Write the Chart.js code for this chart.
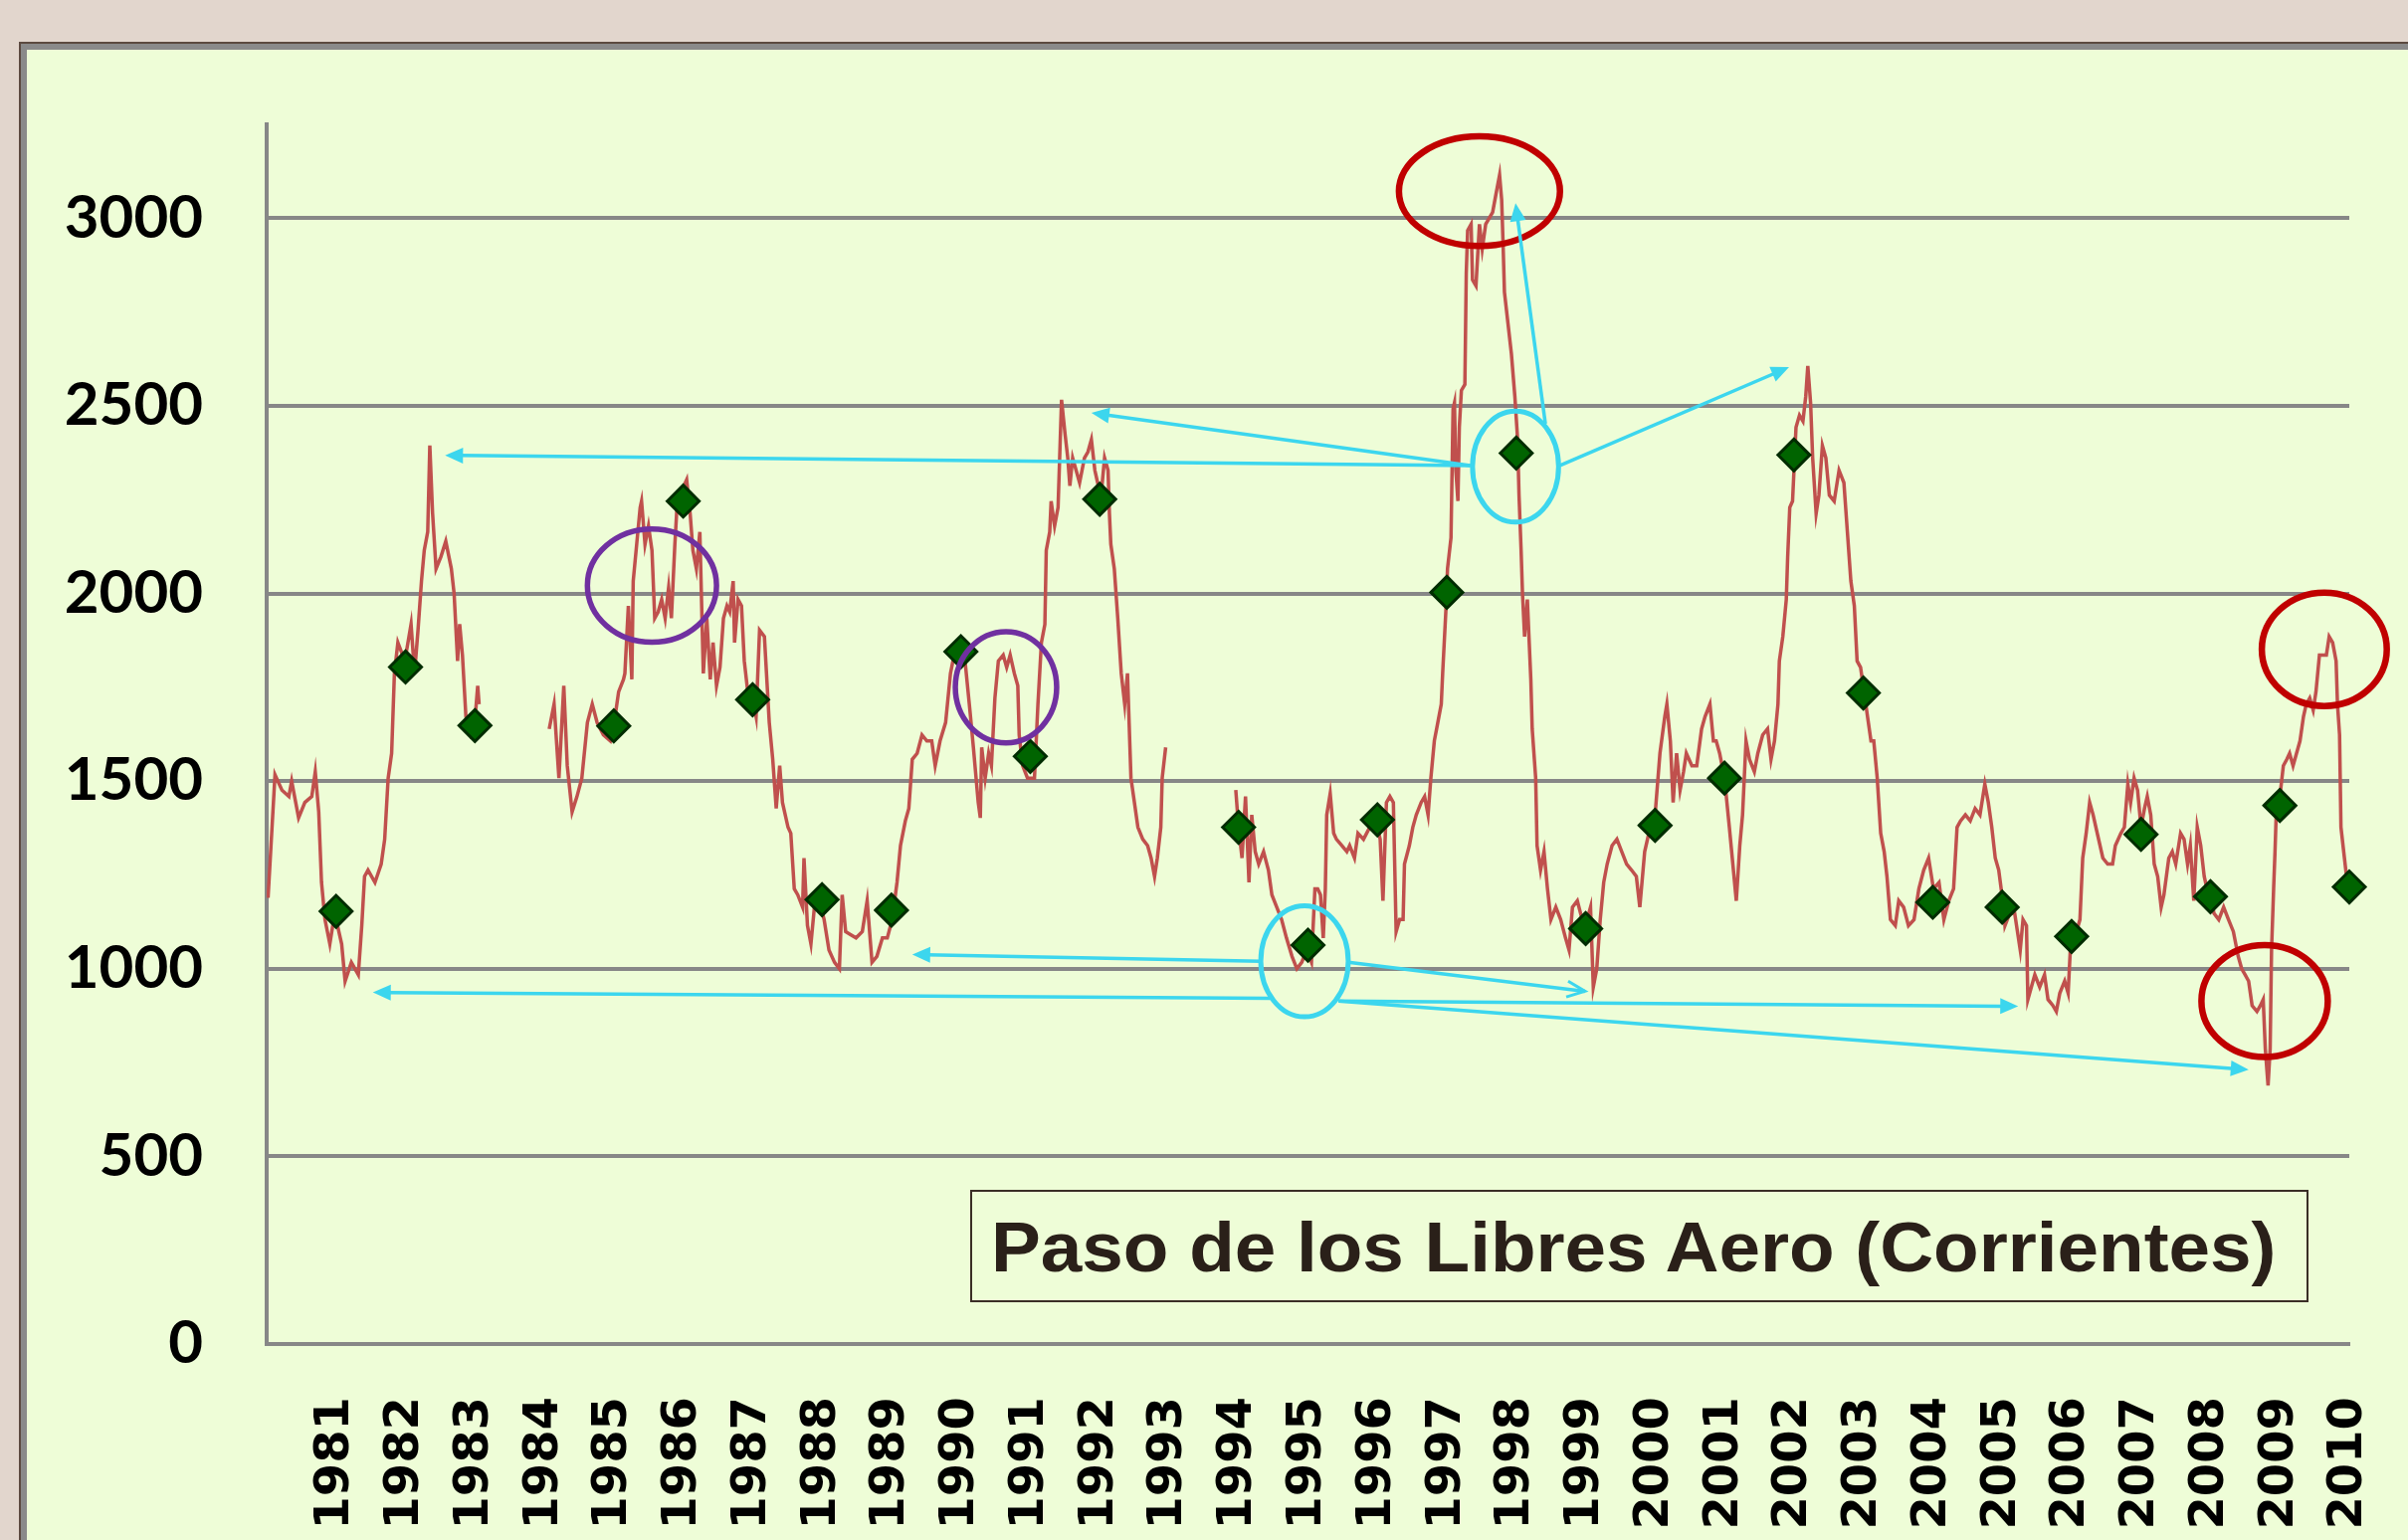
<!DOCTYPE html>
<html lang="es">
<head>
  <meta charset="UTF-8">
  <title>Paso de los Libres Aero (Corrientes)</title>
  <script src="https://cdn.jsdelivr.net/npm/chart.js"></script>
  <style>
    body {
      margin: 0;
      width: 2420px;
      height: 1548px;
      overflow: hidden;
      background: #e2d6cd;
      position: relative;
    }

    #panel {
      position: absolute;
      left: 21px;
      top: 44px;
      width: 2500px;
      height: 1600px;
      background: #eefdd7;
      border: 6px solid #8a8a8a;
      box-shadow: 0 0 0 2px #5c4a40;
    }

    #chart {
      position: absolute;
      left: 0;
      top: 0;
    }

    #titleBox {
      position: absolute;
      left: 975px;
      top: 1196px;
      width: 1345px;
      height: 113px;
      box-sizing: border-box;
      border: 2px solid #3a2e26;
    }

    #titleText {
      position: absolute;
      left: 996px;
      top: 1218px;
      font-family: 'Liberation Sans', Arial, sans-serif;
      font-weight: bold;
      font-size: 71px;
      line-height: 71px;
      color: #2a2019;
      white-space: nowrap;
      transform-origin: 0 0;
    }
  </style>
</head>
<body>
  <div id="panel"></div>
  <canvas id="chart" width="2420" height="1548"></canvas>
  <div id="titleBox"></div>
  <div id="titleText">Paso de los Libres Aero (Corrientes)</div>

  <script>
    // annual means (diamonds)
    const annualYears = [1981, 1982, 1983, 1985, 1986, 1987, 1988, 1989, 1990, 1991, 1992, 1994, 1995, 1996,
      1997, 1998, 1999, 2000, 2001, 2002, 2003, 2004, 2005, 2006, 2007, 2008, 2009, 2010];
    const annualValues = [1153, 1804, 1648, 1647, 2246, 1717, 1184, 1156, 1845, 1566, 2251, 1377, 1063, 1397,
      2003, 2374, 1107, 1382, 1508, 2369, 1735, 1177, 1164, 1086, 1358, 1192, 1435, 1218];

    // running series (red line), null = no data
    const seriesTime = [
      1980.02, 1980.12, 1980.22, 1980.32, 1980.36, 1980.46, 1980.55, 1980.65, 1980.70, 1980.75, 1980.79, 1980.84,
      1980.91, 1980.98, 1981.08, 1981.13, 1981.22, 1981.32, 1981.37, 1981.41, 1981.46, 1981.56, 1981.65, 1981.70,
      1981.75, 1981.80, 1981.84, 1981.89, 1981.99, 1982.08, 1982.13, 1982.18, 1982.23, 1982.27, 1982.32, 1982.35,
      1982.39, 1982.44, 1982.51, 1982.58, 1982.66, 1982.70, 1982.75, 1982.78, 1982.82, 1982.87, 1982.94, 1982.99,
      1983.04, 1983.06,
      1983.5,
      1984.07, 1984.14, 1984.21, 1984.28, 1984.33, 1984.40, 1984.47, 1984.54, 1984.62, 1984.69, 1984.76, 1984.85,
      1984.95, 1985.00, 1985.07, 1985.14, 1985.16, 1985.21, 1985.26, 1985.28, 1985.33, 1985.38, 1985.40, 1985.45,
      1985.50, 1985.55, 1985.59, 1985.64, 1985.69, 1985.74, 1985.79, 1985.83, 1985.88, 1985.91, 1985.95, 1986.05,
      1986.10, 1986.14, 1986.19, 1986.24, 1986.29, 1986.34, 1986.39, 1986.43, 1986.48, 1986.53, 1986.58, 1986.63,
      1986.67, 1986.72, 1986.74, 1986.79, 1986.84, 1986.88, 1986.93, 1987.00, 1987.05, 1987.10, 1987.17, 1987.24,
      1987.29, 1987.34, 1987.39, 1987.43, 1987.51, 1987.55, 1987.60, 1987.65, 1987.72, 1987.74, 1987.79, 1987.84,
      1987.89, 1987.96, 1988.03, 1988.10, 1988.18, 1988.25, 1988.29, 1988.34, 1988.41, 1988.49, 1988.58, 1988.65,
      1988.72, 1988.79, 1988.87, 1988.94, 1989.01, 1989.08, 1989.13, 1989.20, 1989.25, 1989.30, 1989.37, 1989.44,
      1989.51, 1989.58, 1989.63, 1989.70, 1989.78, 1989.85, 1989.92, 1989.99, 1990.06, 1990.13, 1990.18, 1990.25,
      1990.28, 1990.30, 1990.35, 1990.40, 1990.44, 1990.49, 1990.54, 1990.61, 1990.66, 1990.71, 1990.77, 1990.82,
      1990.84, 1990.89, 1990.96, 1991.06, 1991.11, 1991.16, 1991.21, 1991.23, 1991.28, 1991.30, 1991.35, 1991.40,
      1991.45, 1991.50, 1991.54, 1991.57, 1991.61, 1991.66, 1991.71, 1991.78, 1991.83, 1991.88, 1991.93, 1991.97,
      1992.02, 1992.07, 1992.12, 1992.14, 1992.16, 1992.21, 1992.26, 1992.31, 1992.36, 1992.40, 1992.45, 1992.50,
      1992.55, 1992.62, 1992.69, 1992.74, 1992.79, 1992.83, 1992.88, 1992.90, 1992.95,
      1993.5,
      1993.96, 1994.00, 1994.05, 1994.10, 1994.15, 1994.19, 1994.24, 1994.29, 1994.36, 1994.43, 1994.48, 1994.55,
      1994.62, 1994.69, 1994.77, 1994.84, 1994.91, 1994.98, 1995.05, 1995.10, 1995.14, 1995.18, 1995.22, 1995.25,
      1995.27, 1995.32, 1995.37, 1995.41, 1995.49, 1995.56, 1995.60, 1995.67, 1995.72, 1995.80, 1995.89, 1995.96,
      1996.04, 1996.08, 1996.13, 1996.18, 1996.23, 1996.27, 1996.32, 1996.37, 1996.39, 1996.46, 1996.51, 1996.56,
      1996.63, 1996.68, 1996.73, 1996.77, 1996.82, 1996.87, 1996.92, 1996.94, 1996.99, 1997.01, 1997.06, 1997.09,
      1997.11, 1997.13, 1997.16, 1997.18, 1997.21, 1997.26, 1997.28, 1997.30, 1997.35, 1997.37, 1997.42, 1997.47,
      1997.51, 1997.56, 1997.61, 1997.66, 1997.71, 1997.76, 1997.79, 1997.81, 1997.83, 1997.88, 1997.93, 1997.98,
      1998.02, 1998.04, 1998.07, 1998.09, 1998.12, 1998.16, 1998.21, 1998.23, 1998.28, 1998.30, 1998.35, 1998.40,
      1998.45, 1998.50, 1998.57, 1998.64, 1998.71, 1998.76, 1998.81, 1998.88, 1998.95, 1999.02, 1999.07, 1999.11,
      1999.16, 1999.21, 1999.26, 1999.31, 1999.38, 1999.45, 1999.52, 1999.59, 1999.66, 1999.73, 1999.78, 1999.85,
      1999.93, 2000.00, 2000.07, 2000.14, 2000.17, 2000.22, 2000.26, 2000.31, 2000.36, 2000.41, 2000.45, 2000.53,
      2000.60, 2000.67, 2000.72, 2000.79, 2000.84, 2000.88, 2000.93, 2001.00, 2001.07, 2001.12, 2001.17, 2001.22,
      2001.26, 2001.31, 2001.36, 2001.43, 2001.48, 2001.55, 2001.62, 2001.67, 2001.72, 2001.77, 2001.79, 2001.84,
      2001.89, 2001.91, 2001.94, 2001.98, 2002.03, 2002.08, 2002.13, 2002.17, 2002.20, 2002.24, 2002.27, 2002.32,
      2002.36, 2002.41, 2002.46, 2002.51, 2002.58, 2002.65, 2002.72, 2002.77, 2002.82, 2002.87, 2002.91, 2002.96,
      2003.01, 2003.06, 2003.11, 2003.15, 2003.20, 2003.25, 2003.30, 2003.34, 2003.39, 2003.46, 2003.51, 2003.58,
      2003.65, 2003.73, 2003.80, 2003.87, 2003.94, 2004.01, 2004.09, 2004.16, 2004.23, 2004.30, 2004.35, 2004.40,
      2004.47, 2004.54, 2004.61, 2004.68, 2004.75, 2004.80, 2004.85, 2004.90, 2004.95, 2005.02, 2005.04, 2005.11,
      2005.18, 2005.26, 2005.30, 2005.35, 2005.37, 2005.42, 2005.47, 2005.54, 2005.61, 2005.66, 2005.73, 2005.78,
      2005.83, 2005.90, 2005.95, 2005.99, 2006.07, 2006.12, 2006.16, 2006.21, 2006.26, 2006.31, 2006.35, 2006.45,
      2006.52, 2006.59, 2006.63, 2006.71, 2006.76, 2006.81, 2006.85, 2006.90, 2006.95, 2007.00, 2007.05, 2007.09,
      2007.14, 2007.19, 2007.24, 2007.29, 2007.33, 2007.40, 2007.45, 2007.50, 2007.57, 2007.62, 2007.67, 2007.71,
      2007.76, 2007.81, 2007.86, 2007.91, 2007.95, 2008.00, 2008.05, 2008.12, 2008.19, 2008.26, 2008.33, 2008.40,
      2008.45, 2008.50, 2008.55, 2008.60, 2008.67, 2008.72, 2008.76, 2008.79, 2008.83, 2008.86, 2008.88, 2008.91,
      2008.93, 2008.95, 2009.00, 2009.05, 2009.10, 2009.14, 2009.19, 2009.24, 2009.29, 2009.34, 2009.38, 2009.43,
      2009.48, 2009.52, 2009.57, 2009.62, 2009.67, 2009.71, 2009.76, 2009.81, 2009.83, 2009.86, 2009.88, 2009.93,
      2009.96
    ];
    const seriesValue = [
      1189, 1517, 1476, 1459, 1500, 1402, 1443, 1459, 1525, 1418, 1230, 1131,
      1066, 1148, 1066, 967, 1017, 984, 1115, 1246, 1263, 1230, 1279, 1345,
      1508, 1574, 1787, 1869, 1820, 1918, 1787, 1902, 2033, 2115, 2164, 2394,
      2213, 2066, 2098, 2139, 2066, 2000, 1820, 1918, 1836, 1672, 1623, 1639,
      1754, 1705,
      null,
      1639, 1705, 1508, 1754, 1541, 1418, 1459, 1508, 1656, 1705, 1656, 1623,
      1607, 1648, 1738, 1771, 1787, 1967, 1771, 2033, 2131, 2229, 2246, 2131,
      2180, 2115, 1934, 1951, 1984, 1934, 2016, 1934, 2131, 2229, 2262, 2303,
      2213, 2115, 2066, 2164, 1787, 1934, 1771, 1869, 1754, 1803, 1934, 1967,
      1951, 2033, 1869, 1984, 1967, 1820, 1738, 1721, 1672, 1902, 1885, 1656,
      1558, 1427, 1541, 1443, 1377, 1361, 1213, 1197, 1164, 1295, 1115, 1066,
      1164, 1181, 1131, 1050, 1017, 1000, 1197, 1099, 1091, 1082, 1099, 1181,
      1017, 1033, 1082, 1082, 1131, 1230, 1328, 1394, 1427, 1558, 1574, 1623,
      1607, 1607, 1541, 1607, 1656, 1787, 1852, 1836, 1820, 1689, 1590, 1443,
      1402, 1590, 1508, 1574, 1541, 1721, 1820, 1836, 1803, 1836, 1787, 1754,
      1623, 1541, 1508, 1508, 1705, 1869, 1918, 2115, 2164, 2246, 2180, 2229,
      2516, 2426, 2361, 2287, 2361, 2328, 2295, 2361, 2377, 2410, 2328, 2295,
      2262, 2361, 2328, 2213, 2131, 2066, 1934, 1787, 1705, 1787, 1508, 1443,
      1377, 1345, 1328, 1295, 1246, 1295, 1377, 1508, 1590,
      null,
      1476, 1377, 1295, 1459, 1230, 1410, 1312, 1279, 1312, 1263, 1197, 1164,
      1131, 1082, 1033, 1000, 1017, 1050, 1017, 1213, 1213, 1197, 1082, 1213,
      1410, 1467, 1361, 1345, 1328, 1312, 1328, 1295, 1361, 1345, 1377, 1410,
      1345, 1181, 1443, 1459, 1443, 1099, 1131, 1131, 1279, 1328, 1377, 1410,
      1443, 1459, 1410, 1508, 1607, 1656, 1705, 1787, 1967, 2066, 2148, 2492,
      2508, 2328, 2246, 2443, 2541, 2557, 2852, 2967, 2984, 2836, 2820, 2984,
      2918, 2984, 3000, 3016, 3066, 3115, 3049, 2934, 2803, 2721, 2639, 2525,
      2410, 2262, 2115, 2000, 1885, 1984, 1771, 1639, 1508, 1328, 1263, 1312,
      1213, 1131, 1164, 1131, 1082, 1050, 1164, 1181, 1131, 1131, 1164, 951,
      1000, 1131, 1230, 1279, 1328, 1345, 1312, 1279, 1263, 1246, 1164, 1312,
      1377, 1410, 1574, 1672, 1705, 1607, 1443, 1574, 1476, 1525, 1574, 1541,
      1541, 1639, 1672, 1705, 1607, 1607, 1574, 1508, 1377, 1279, 1181, 1328,
      1410, 1607, 1558, 1525, 1574, 1623, 1639, 1558, 1607, 1705, 1820, 1885,
      1984, 2098, 2229, 2246, 2443, 2475, 2459, 2525, 2606, 2508, 2361, 2213,
      2262, 2394, 2361, 2262, 2246, 2328, 2295, 2164, 2033, 1967, 1820, 1803,
      1738, 1672, 1607, 1607, 1508, 1361, 1312, 1246, 1131, 1115, 1181, 1164,
      1115, 1131, 1213, 1263, 1295, 1213, 1230, 1131, 1181, 1213, 1377, 1394,
      1410, 1394, 1427, 1410, 1492, 1443, 1377, 1295, 1263, 1164, 1115, 1148,
      1148, 1050, 1131, 1115, 918, 951, 984, 951, 984, 918, 902, 886,
      935, 967, 935, 1082, 1099, 1131, 1295, 1361, 1443, 1410, 1377, 1295,
      1279, 1279, 1328, 1361, 1377, 1492, 1443, 1508, 1476, 1377, 1427, 1459,
      1410, 1279, 1246, 1164, 1197, 1295, 1312, 1279, 1361, 1345, 1279, 1328,
      1181, 1377, 1328, 1246, 1213, 1197, 1148, 1131, 1164, 1131, 1099, 1033,
      1000, 984, 967, 902, 886, 902, 918, 787, 689, 787, 1050, 1213,
      1312, 1427, 1459, 1541, 1558, 1574, 1541, 1574, 1607, 1672, 1705, 1721,
      1689, 1738, 1836, 1836, 1836, 1885, 1869, 1820, 1705, 1623, 1377, 1295,
      1246
    ];

    const yearTicks = [1981, 1982, 1983, 1984, 1985, 1986, 1987, 1988, 1989, 1990, 1991, 1992, 1993, 1994, 1995,
      1996, 1997, 1998, 1999, 2000, 2001, 2002, 2003, 2004, 2005, 2006, 2007, 2008, 2009, 2010];
    const valueTicks = [0, 500, 1000, 1500, 2000, 2500, 3000];

    // hand-drawn marks on the slide: [year, value, half-width in years, half-height in value, kind]
    const rings = [
      [1997.99, 2338, 0.62, 148, 'cyan'],
      [1994.95, 1020, 0.63, 148, 'cyan'],
      [1985.55, 2021, 0.93, 151, 'purple'],
      [1990.65, 1750, 0.73, 148, 'purple'],
      [1997.47, 3072, 1.16, 146, 'red'],
      [2009.64, 1851, 0.90, 151, 'red'],
      [2008.78, 914, 0.91, 149, 'red']
    ];
    // [from year, from value, to year, to value, open head]
    const arrows = [
      [1997.34, 2341, 1982.57, 2368, false],
      [1997.34, 2341, 1991.88, 2481, false],
      [1998.42, 2452, 1997.99, 3040, false],
      [1998.63, 2341, 2001.93, 2603, false],
      [1994.32, 1020, 1989.30, 1038, false],
      [1994.46, 921, 1981.53, 937, false],
      [1995.58, 1017, 1998.99, 940, true],
      [1995.44, 914, 2005.23, 900, false],
      [1995.44, 914, 2008.55, 731, false]
    ];

    const ringStyle = {
      cyan: { color: '#3cd6ee', width: 5 },
      purple: { color: '#7030a0', width: 5.5 },
      red: { color: '#c00000', width: 6.5 }
    };
    const arrowColor = '#3cd6ee';

    const marks = {
      id: 'marks',
      afterDatasetsDraw(chart) {
        const { ctx } = chart;
        const x = chart.scales.x, y = chart.scales.y;
        ctx.save();
        rings.forEach(([t, v, dt, dv, kind]) => {
          const cx = x.getPixelForValue(t), cy = y.getPixelForValue(v);
          const rx = x.getPixelForValue(t + dt) - cx;
          const ry = cy - y.getPixelForValue(v + dv);
          ctx.beginPath();
          ctx.ellipse(cx, cy, rx, ry, 0, 0, Math.PI * 2);
          ctx.strokeStyle = ringStyle[kind].color;
          ctx.lineWidth = ringStyle[kind].width;
          ctx.stroke();
        });

        ctx.strokeStyle = arrowColor;
        ctx.fillStyle = arrowColor;
        arrows.forEach(([t0, v0, t1, v1, open]) => {
          const x0 = x.getPixelForValue(t0), y0 = y.getPixelForValue(v0);
          const x1 = x.getPixelForValue(t1), y1 = y.getPixelForValue(v1);
          const a = Math.atan2(y1 - y0, x1 - x0);
          const len = 18, half = 8;
          ctx.lineWidth = 3.5;
          ctx.beginPath();
          ctx.moveTo(x0, y0);
          ctx.lineTo(open ? x1 : x1 - Math.cos(a) * len * 0.8, open ? y1 : y1 - Math.sin(a) * len * 0.8);
          ctx.stroke();
          const bx = x1 - Math.cos(a) * len, by = y1 - Math.sin(a) * len;
          const px = -Math.sin(a) * half, py = Math.cos(a) * half;
          ctx.beginPath();
          ctx.moveTo(bx + px, by + py);
          ctx.lineTo(x1, y1);
          ctx.lineTo(bx - px, by - py);
          if (open) {
            ctx.lineWidth = 3;
            ctx.stroke();
          } else {
            ctx.closePath();
            ctx.fill();
          }
        });
        ctx.restore();
      }
    };

    new Chart(document.getElementById('chart'), {
      type: 'line',
      data: {
        datasets: [
          {
            data: annualYears.map((yr, i) => ({ x: yr, y: annualValues[i] })),
            showLine: false,
            pointStyle: 'rectRot',
            pointRadius: 16,
            backgroundColor: '#006400',
            borderColor: '#002c00',
            borderWidth: 3,
            clip: false
          },
          {
            data: seriesTime.map((t, i) => ({ x: t, y: seriesValue[i] })),
            borderColor: '#c0504d',
            borderWidth: 3.5,
            pointRadius: 0,
            tension: 0,
            spanGaps: false
          }
        ]
      },
      options: {
        responsive: false,
        animation: false,
        events: [],
        layout: { padding: { top: 125, right: 59, left: 0, bottom: 0 } },
        plugins: {
          legend: { display: false },
          tooltip: { enabled: false }
        },
        scales: {
          x: {
            type: 'linear',
            min: 1980,
            max: 2010,
            afterBuildTicks: s => { s.ticks = yearTicks.map(v => ({ value: v })); },
            afterFit: s => { s.height = 197; s.paddingLeft = 0; s.paddingRight = 0; },
            grid: { display: false },
            border: { color: '#878787', width: 4 },
            ticks: {
              autoSkip: false,
              minRotation: 90,
              maxRotation: 90,
              padding: 45,
              color: '#000',
              font: { family: 'DejaVu Sans', weight: 'bold', size: 48 },
              callback: v => String(v)
            }
          },
          y: {
            min: 0,
            max: 3250,
            afterBuildTicks: s => { s.ticks = valueTicks.map(v => ({ value: v })); },
            afterFit: s => { s.width = 268; s.paddingTop = 0; s.paddingBottom = 0; },
            grid: { color: '#878787', lineWidth: 4, drawTicks: false },
            border: { color: '#878787', width: 4 },
            ticks: {
              padding: 64,
              color: '#000',
              font: { family: 'Lato', weight: 'bold', size: 60 },
              callback: v => String(v)
            }
          }
        }
      },
      plugins: [marks]
    });

    // squeeze the caption to the width it has on the slide
    const title = document.getElementById('titleText');
    title.style.transform = 'scaleX(' + (1291 / title.offsetWidth) + ')';
  </script>
</body>
</html>
